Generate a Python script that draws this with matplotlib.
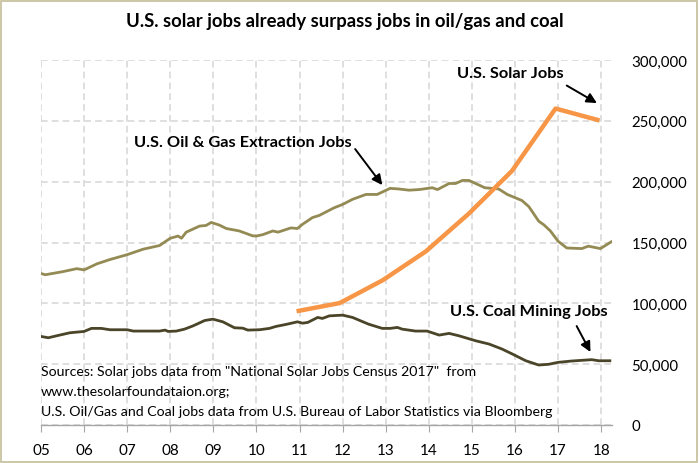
"""U.S. solar vs oil/gas vs coal jobs: matplotlib line chart rebuilt from a picture"""

from __future__ import annotations

import matplotlib

matplotlib.use("Agg")
import matplotlib.pyplot as plt
from matplotlib.patches import Rectangle
from matplotlib.ticker import FuncFormatter

# region data (thousands of jobs)
solar_x = [2010.93, 2011.93, 2012.93, 2013.93, 2014.93, 2015.93, 2016.94, 2017.96]
solar_k = [93.5, 100.2, 119.0, 142.7, 173.8, 208.9, 260.1, 250.3]

oil_x = [
    2005.0, 2005.1, 2005.5, 2005.83, 2006.0, 2006.3, 2006.6, 2007.0, 2007.37, 2007.75,
    2008.0, 2008.18, 2008.26, 2008.37, 2008.68, 2008.83, 2008.95, 2009.14, 2009.3, 2009.45,
    2009.6, 2009.91, 2010.0, 2010.15, 2010.38, 2010.5, 2010.8, 2010.95, 2011.07, 2011.3,
    2011.46, 2011.8, 2012.0, 2012.23, 2012.54, 2012.8, 2013.1, 2013.3, 2013.54, 2013.77,
    2014.08, 2014.2, 2014.47, 2014.62, 2014.78, 2014.93, 2015.3, 2015.62, 2015.82, 2016.16,
    2016.32, 2016.55, 2016.67, 2016.82, 2017.0, 2017.2, 2017.55, 2017.7, 2017.98, 2018.23,
]
oil_k = [
    124.5, 123.5, 126.0, 128.5, 127.5, 132.5, 136.0, 140.0, 144.5, 147.5,
    153.5, 155.3, 153.5, 158.5, 163.5, 164.0, 166.5, 164.3, 161.5, 160.5,
    159.5, 155.5, 155.3, 156.5, 159.5, 158.5, 162.0, 161.5, 165.0, 170.5,
    172.3, 178.5, 181.3, 185.5, 189.5, 189.5, 194.5, 194.0, 193.0, 193.5,
    195.0, 193.5, 198.5, 198.5, 201.0, 201.0, 195.0, 194.0, 189.5, 184.5,
    179.5, 167.5, 164.5, 159.5, 151.0, 145.5, 145.0, 147.0, 145.0, 150.5,
]

coal_x = [
    2005.0, 2005.17, 2005.36, 2005.67, 2006.0, 2006.17, 2006.4, 2006.6, 2007.0, 2007.14,
    2007.75, 2007.88, 2007.95, 2008.14, 2008.33, 2008.53, 2008.8, 2008.99, 2009.22, 2009.49,
    2009.68, 2009.8, 2010.07, 2010.3, 2010.45, 2010.69, 2010.95, 2011.07, 2011.19, 2011.42,
    2011.53, 2011.69, 2012.0, 2012.23, 2012.6, 2012.92, 2013.1, 2013.27, 2013.38, 2013.69,
    2013.96, 2014.24, 2014.47, 2014.7, 2015.09, 2015.4, 2015.7, 2015.94, 2016.25, 2016.55,
    2016.78, 2017.0, 2017.32, 2017.78, 2017.94, 2018.2,
]
coal_k = [
    72.8, 71.7, 73.3, 75.8, 76.9, 79.4, 79.4, 78.3, 78.3, 77.2,
    77.2, 78.0, 76.9, 77.2, 78.8, 81.5, 85.9, 87.0, 84.8, 79.9,
    79.6, 78.0, 78.3, 79.4, 81.0, 82.7, 84.8, 83.7, 84.3, 88.4,
    87.6, 89.7, 90.3, 88.4, 82.9, 79.4, 79.4, 80.2, 78.8, 77.2,
    77.2, 73.9, 75.3, 73.3, 69.2, 66.5, 62.4, 58.3, 52.8, 49.3,
    49.9, 51.5, 52.6, 53.7, 52.8, 52.8,
]

year_ticks = list(range(2005, 2019))
year_labels = [f"{year % 100:02d}" for year in year_ticks]
value_ticks = [0, 50_000, 100_000, 150_000, 200_000, 250_000, 300_000]

title = "U.S. solar jobs already surpass jobs in oil/gas and coal"
source_lines = [
    'Sources: Solar jobs data from "National Solar Jobs Census 2017"  from',
    "www.thesolarfoundataion.org;",
    "U.S. Oil/Gas and Coal jobs data from U.S. Bureau of Labor Statistics via Bloomberg",
]
# endregion

SOLAR = "#F79646"
OIL = "#948A54"
COAL = "#4A4529"
GRID = "#D9D9D9"

plt.rcParams["font.family"] = ["Lato", "DejaVu Sans"]


def _k(values: list[float]) -> list[float]:
    """千单位转为实际人数"""

    return [v * 1000 for v in values]


def _label(ax, text: str, at: tuple[float, float], tail: tuple[float, float], tip: tuple[float, float]) -> None:
    """粗体标签加一根黑色箭头"""

    ax.text(at[0], at[1] * 1000, text, ha="center", va="center", fontsize=11.8, fontweight="bold", color="black")
    ax.annotate(
        "",
        xy=(tip[0], tip[1] * 1000),
        xytext=(tail[0], tail[1] * 1000),
        arrowprops=dict(arrowstyle="-|>", color="black", lw=1.4, mutation_scale=15, shrinkA=0, shrinkB=0),
    )


fig = plt.figure(figsize=(7.0, 4.64), dpi=100)
ax = fig.add_axes([41 / 700, 1 - 426 / 464, (612 - 41) / 700, (426 - 61) / 464])

ax.plot(oil_x, _k(oil_k), color=OIL, lw=2.0, zorder=3)
ax.plot(coal_x, _k(coal_k), color=COAL, lw=2.0, zorder=3)
ax.plot(solar_x, _k(solar_k), color=SOLAR, lw=3.2, zorder=4, solid_capstyle="butt")

ax.set_xlim(2005, 2018.25)
ax.set_ylim(0, 300_000)
ax.set_xticks(year_ticks, year_labels)
ax.set_yticks(value_ticks)
ax.yaxis.set_major_formatter(FuncFormatter(lambda v, _pos: f"{int(v):,}"))
ax.yaxis.tick_right()

ax.grid(True, color=GRID, linestyle=(0, (4, 2.5)), lw=1.2, zorder=0)
ax.set_axisbelow(True)
for side in ("top", "left", "right"):
    ax.spines[side].set_visible(False)
ax.spines["bottom"].set_color("#A6A6A6")
ax.spines["bottom"].set_linewidth(1.0)
ax.tick_params(axis="x", direction="out", length=5, color="#A6A6A6", labelsize=11, pad=8)
ax.tick_params(axis="y", length=0, labelsize=10.8, pad=14)

_label(ax, "U.S. Solar Jobs", (2015.9, 289), (2017.2, 279), (2017.9, 264.6))
_label(ax, "U.S. Oil & Gas Extraction Jobs", (2009.68, 232.5), (2012.29, 226.8), (2012.92, 197.2))
_label(ax, "U.S. Coal Mining Jobs", (2016.32, 93.7), (2017.43, 81.3), (2017.75, 60.0))

for y_k, line in zip([44.4, 28.0, 11.5], source_lines):
    ax.text(2005.0, y_k * 1000, line, ha="left", va="center", fontsize=10.2, color="black", zorder=5)

fig.text(0.493, 1 - 22 / 464, title, ha="center", va="center", fontsize=13.3, fontweight="bold")
fig.patches.append(
    Rectangle((0.001, 0.002), 0.995, 0.994, transform=fig.transFigure, fill=False, edgecolor="#C4BD97", lw=1.2)
)

fig.savefig("out.png", dpi=100)
